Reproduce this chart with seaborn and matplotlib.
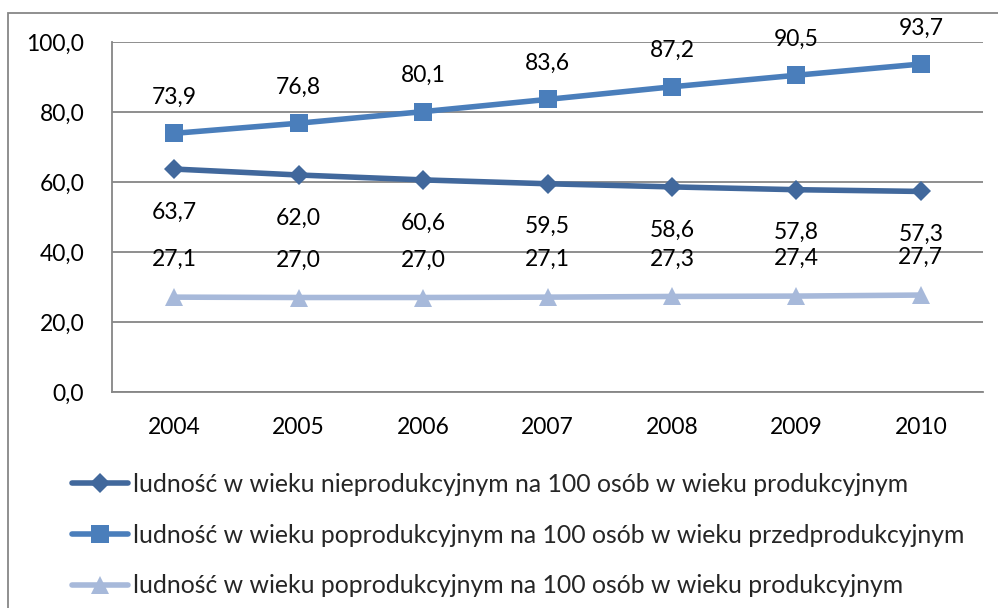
import matplotlib
matplotlib.use("Agg")
import matplotlib.pyplot as plt
import seaborn as sns
import pandas as pd
from matplotlib.patches import Rectangle

years = ["2004", "2005", "2006", "2007", "2008", "2009", "2010"]
nieprod = [63.7, 62.0, 60.6, 59.5, 58.6, 57.8, 57.3]
poprod_przed = [73.9, 76.8, 80.1, 83.6, 87.2, 90.5, 93.7]
poprod_prod = [27.1, 27.0, 27.0, 27.1, 27.3, 27.4, 27.7]

labels = [
    "ludność w wieku nieprodukcyjnym na 100 osób w wieku produkcyjnym",
    "ludność w wieku poprodukcyjnym na 100 osób w wieku przedprodukcyjnym",
    "ludność w wieku poprodukcyjnym na 100 osób w wieku produkcyjnym",
]
colors = ["#41689C", "#4A7EBB", "#A7B9DA"]
markers = ["D", "s", "^"]
msizes = [10, 13, 13]
# label offsets in points (above / below the marker)
offsets = [-31, 26, 27]

sns.set_theme(style="white")
plt.rcParams["font.family"] = ["Lato", "DejaVu Sans"]

df = pd.DataFrame({"rok": years * 3,
                   "wartosc": nieprod + poprod_przed + poprod_prod,
                   "seria": [labels[0]] * 7 + [labels[1]] * 7 + [labels[2]] * 7})

fig = plt.figure(figsize=(9.98, 6.08), dpi=100)
ax = fig.add_axes([112 / 998, 1 - 392 / 608, 871 / 998, 350 / 608])

for i, lab in enumerate(labels):
    sub = df[df["seria"] == lab]
    sns.lineplot(data=sub, x="rok", y="wartosc", ax=ax, color=colors[i],
                 linewidth=4, marker=markers[i], markersize=msizes[i],
                 markeredgewidth=0, label=lab, sort=False)
    for x, v in enumerate(sub["wartosc"]):
        ax.annotate(f"{v:.1f}".replace(".", ","), (x, v), xytext=(0, offsets[i]),
                    textcoords="offset points", ha="center", va="center",
                    fontsize=16.5, color="black")

ax.set_xlim(-0.5, 6.5)
ax.set_ylim(0, 100)
ax.set_yticks([0, 20, 40, 60, 80, 100])
ax.set_yticklabels([f"{t:.1f}".replace(".", ",") for t in [0, 20, 40, 60, 80, 100]])
ax.yaxis.grid(True, color="#868686", linewidth=1.3)
ax.set_axisbelow(True)
ax.set_xlabel("")
ax.set_ylabel("")
ax.tick_params(axis="both", labelsize=16.5, length=0, colors="black")
ax.tick_params(axis="y", pad=20)
ax.tick_params(axis="x", pad=18)
for side in ["top", "right"]:
    ax.spines[side].set_visible(False)
for side in ["left", "bottom"]:
    ax.spines[side].set_color("#868686")
    ax.spines[side].set_linewidth(1.3)

handles, hl = ax.get_legend_handles_labels()
ax.legend(handles, hl, loc="upper left", bbox_to_anchor=(72 / 998, 1 - 473 / 608),
          bbox_transform=fig.transFigure, frameon=False, fontsize=17.8,
          handlelength=2.25, handletextpad=0.2, labelspacing=1.12, borderpad=0,
          borderaxespad=0)

fig.patches.append(Rectangle((8 / 998, -0.05), 1.1, 1 - 13 / 608 + 0.05,
                             transform=fig.transFigure, fill=False,
                             edgecolor="#878787", linewidth=1.3))

fig.savefig("out.png", dpi=100, facecolor="white")
